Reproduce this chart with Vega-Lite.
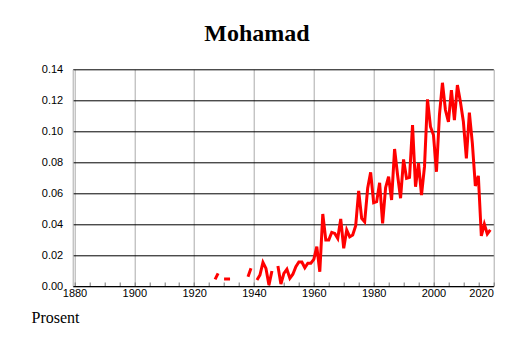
{
  "$schema": "https://vega.github.io/schema/vega-lite/v6.json",
  "width": 420.6,
  "height": 216.7,
  "autosize": "none",
  "padding": {"left": 72.7, "top": 69.3, "right": 20.7, "bottom": 57},
  "background": "white",
  "title": {"text": "Mohamad", "font": "Liberation Serif", "fontSize": 24, "fontWeight": "bold", "anchor": "middle", "dx": -26, "offset": -2, "baseline": "alphabetic", "color": "black"},
  "config": {"view": {"stroke": null}},
  "data": {"values": [
    {"year": 1927, "value": 0.0043}, {"year": 1928, "value": 0.0082}, {"year": 1929, "value": null},
    {"year": 1930, "value": 0.0045}, {"year": 1931, "value": 0.0045}, {"year": 1932, "value": 0.0045}, {"year": 1933, "value": null},
    {"year": 1938, "value": 0.006}, {"year": 1939, "value": 0.0114}, {"year": 1940, "value": null},
    {"year": 1941, "value": 0.0039}, {"year": 1942, "value": 0.0071}, {"year": 1943, "value": 0.0153}, {"year": 1944, "value": 0.0114},
    {"year": 1945, "value": 0.0006}, {"year": 1946, "value": 0.0097}, {"year": 1947, "value": null},
    {"year": 1948, "value": 0.0129}, {"year": 1949, "value": 0.0013}, {"year": 1950, "value": 0.0082}, {"year": 1951, "value": 0.0108},
    {"year": 1952, "value": 0.005}, {"year": 1953, "value": 0.0076}, {"year": 1954, "value": 0.0125}, {"year": 1955, "value": 0.0155},
    {"year": 1956, "value": 0.0155}, {"year": 1957, "value": 0.0118}, {"year": 1958, "value": 0.0147}, {"year": 1959, "value": 0.0147},
    {"year": 1960, "value": 0.0172}, {"year": 1961, "value": 0.0254}, {"year": 1962, "value": 0.0092}, {"year": 1963, "value": 0.0465},
    {"year": 1964, "value": 0.0297}, {"year": 1965, "value": 0.0297}, {"year": 1966, "value": 0.0347}, {"year": 1967, "value": 0.034},
    {"year": 1968, "value": 0.0308}, {"year": 1969, "value": 0.0433}, {"year": 1970, "value": 0.0244}, {"year": 1971, "value": 0.0362},
    {"year": 1972, "value": 0.0318}, {"year": 1973, "value": 0.0329}, {"year": 1974, "value": 0.039}, {"year": 1975, "value": 0.0614},
    {"year": 1976, "value": 0.0437}, {"year": 1977, "value": 0.0415}, {"year": 1978, "value": 0.0631}, {"year": 1979, "value": 0.0734},
    {"year": 1980, "value": 0.0538}, {"year": 1981, "value": 0.0545}, {"year": 1982, "value": 0.0667}, {"year": 1983, "value": 0.0405},
    {"year": 1984, "value": 0.0635}, {"year": 1985, "value": 0.0706}, {"year": 1986, "value": 0.0556}, {"year": 1987, "value": 0.0885},
    {"year": 1988, "value": 0.0717}, {"year": 1989, "value": 0.0567}, {"year": 1990, "value": 0.0818}, {"year": 1991, "value": 0.0696},
    {"year": 1992, "value": 0.0702}, {"year": 1993, "value": 0.104}, {"year": 1994, "value": 0.0641}, {"year": 1995, "value": 0.0793},
    {"year": 1996, "value": 0.0588}, {"year": 1997, "value": 0.0771}, {"year": 1998, "value": 0.1206}, {"year": 1999, "value": 0.1029},
    {"year": 2000, "value": 0.0975}, {"year": 2001, "value": 0.0738}, {"year": 2002, "value": 0.1105}, {"year": 2003, "value": 0.1313},
    {"year": 2004, "value": 0.1137}, {"year": 2005, "value": 0.1061}, {"year": 2006, "value": 0.1266}, {"year": 2007, "value": 0.1072},
    {"year": 2008, "value": 0.1298}, {"year": 2009, "value": 0.119}, {"year": 2010, "value": 0.1061}, {"year": 2011, "value": 0.0825},
    {"year": 2012, "value": 0.112}, {"year": 2013, "value": 0.0922}, {"year": 2014, "value": 0.0646}, {"year": 2015, "value": 0.0711},
    {"year": 2016, "value": 0.0323}, {"year": 2017, "value": 0.04}, {"year": 2018, "value": 0.0336}, {"year": 2019, "value": 0.0362}
  ]},
  "mark": {"type": "line", "color": "#ff0000", "strokeWidth": 3, "invalid": "break-paths-show-domains"},
  "encoding": {
    "x": {
      "field": "year", "type": "quantitative",
      "scale": {"domain": [1879.4, 2020], "nice": false, "zero": false},
      "axis": {
        "values": [1880,1885,1890,1895,1900,1905,1910,1915,1920,1925,1930,1935,1940,1945,1950,1955,1960,1965,1970,1975,1980,1985,1990,1995,2000,2005,2010,2015,2020],
        "labelExpr": "datum.value % 20 == 0 ? datum.value : ''",
        "labelAlign": {"expr": "datum.value >= 2020 ? 'right' : 'center'"},
        "labelFont": "Liberation Sans", "labelFontSize": 11, "labelColor": "black",
        "labelPadding": 5, "labelBaseline": "top",
        "grid": true, "gridColor": "#aaaaaa", "gridWidth": 1,
        "gridOpacity": {"condition": {"test": "datum.value % 20 != 0", "value": 0}, "value": 1},
        "domainColor": "black", "domainWidth": 1,
        "ticks": true, "tickSize": -4, "tickColor": "#777777",
        "title": "Prosent", "titleFont": "Liberation Serif", "titleFontSize": 16, "titleFontWeight": "normal", "titleColor": "black",
        "titleAlign": "left", "titleBaseline": "alphabetic", "titleX": -41.7, "titleY": 36.7, "titleAnchor": "start"
      }
    },
    "y": {
      "field": "value", "type": "quantitative",
      "scale": {"domain": [0, 0.14], "nice": false},
      "axis": {
        "values": [0, 0.02, 0.04, 0.06, 0.08, 0.1, 0.12, 0.14],
        "format": ".2f",
        "labelFont": "Liberation Sans", "labelFontSize": 11, "labelColor": "black",
        "labelPadding": 10, "ticks": false,
        "grid": true, "gridColor": "#000000", "gridWidth": 1,
        "domainColor": "#aaaaaa", "title": null
      }
    }
  }
}
